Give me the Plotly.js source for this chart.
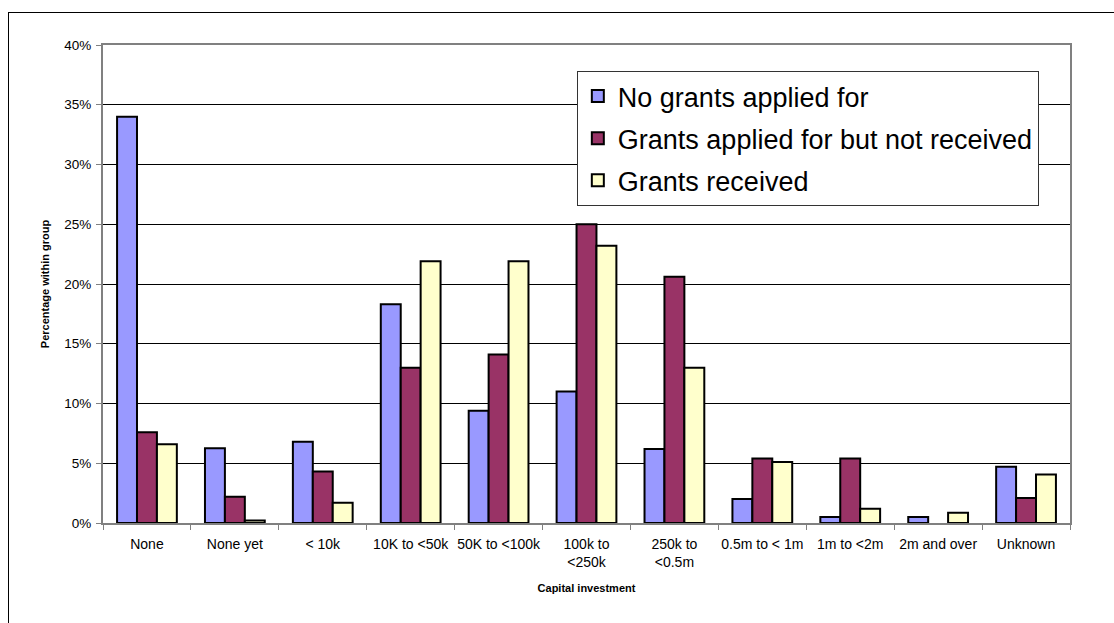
<!DOCTYPE html>
<html>
<head>
<meta charset="utf-8">
<script src="https://cdn.plot.ly/plotly-3.0.1.min.js"></script>
<style>
  html, body { margin: 0; padding: 0; background: #fff; overflow: hidden; }
  #frame { position: absolute; left: 8px; top: 12px; width: 1200px; height: 700px; border: 1px solid #000; }
  #chart { position: absolute; left: 0; top: 0; width: 1114px; height: 623px; }
</style>
</head>
<body>
<div id="frame"></div>
<div id="chart"></div>
<script>
const categories = ["None", "None yet", "< 10k", "10K to <50k", "50K to <100k", "100k to<br><250k",
                    "250k to<br><0.5m", "0.5m to < 1m", "1m to <2m", "2m and over", "Unknown"];
const seriesNames = ["No grants applied for", "Grants applied for but not received", "Grants received"];
const noGrants      = [34.0, 6.25, 6.8, 18.3, 9.4, 11.0, 6.2, 2.0, 0.5, 0.5, 4.7];
const notReceived   = [7.6, 2.2, 4.3, 13.0, 14.1, 25.0, 20.6, 5.4, 5.4, null, 2.1];
const received      = [6.6, 0.2, 1.7, 21.9, 21.9, 23.2, 13.0, 5.1, 1.2, 0.85, 4.05];
const colors = ["#9999FF", "#993366", "#FFFFCC"];
const yTicks = [0, 5, 10, 15, 20, 25, 30, 35, 40];

const font = "Liberation Sans, Arial, sans-serif";
const data = [noGrants, notReceived, received].map((vals, i) => ({
  type: "bar",
  name: seriesNames[i],
  x: categories,
  y: vals,
  legendgroup: "g" + i,
  marker: { color: colors[i], line: { color: "#000", width: 2 } },
  hoverinfo: "x+y+name"
}));

const layout = {
  width: 1114, height: 623,
  margin: { l: 103, r: 44, t: 45, b: 100 },
  paper_bgcolor: "rgba(0,0,0,0)",
  plot_bgcolor: "#fff",
  font: { family: font, size: 14, color: "#000" },
  barmode: "group",
  bargap: 0.32,
  bargroupgap: 0,
  xaxis: {
    type: "category",
    tickson: "boundaries",
    tickangle: 0,
    ticks: "outside", ticklen: 5, tickcolor: "#808080", tickwidth: 1,
    ticklabelstandoff: 7,
    showline: true, linecolor: "#808080", linewidth: 2, mirror: true,
    showgrid: false,
    tickfont: { family: font, size: 14, color: "#000" },
    title: { text: "<b>Capital investment</b>", font: { family: font, size: 11, color: "#000" }, standoff: 15 }
  },
  yaxis: {
    range: [0, 40],
    tickvals: yTicks,
    ticktext: yTicks.map(v => v + "%"),
    ticks: "outside", ticklen: 5, tickcolor: "#808080", tickwidth: 1,
    ticklabelstandoff: 2,
    showline: true, linecolor: "#808080", linewidth: 2, mirror: true,
    showgrid: true, gridcolor: "#000", gridwidth: 1,
    zeroline: false,
    tickfont: { family: font, size: 13.5, color: "#000" },
    title: { text: "<b>Percentage within group</b>", font: { family: font, size: 11, color: "#000" }, standoff: 12 }
  },
  showlegend: true,
  legend: {
    x: 0.49, y: 0.9456, xanchor: "left", yanchor: "top",
    bgcolor: "#fff", bordercolor: "#333", borderwidth: 1,
    font: { family: font, size: 27, color: "#000" },
    traceorder: "grouped", tracegroupgap: 4
  }
};

Plotly.newPlot("chart", data, layout, { displayModeBar: false, staticPlot: true });
</script>
</body>
</html>
